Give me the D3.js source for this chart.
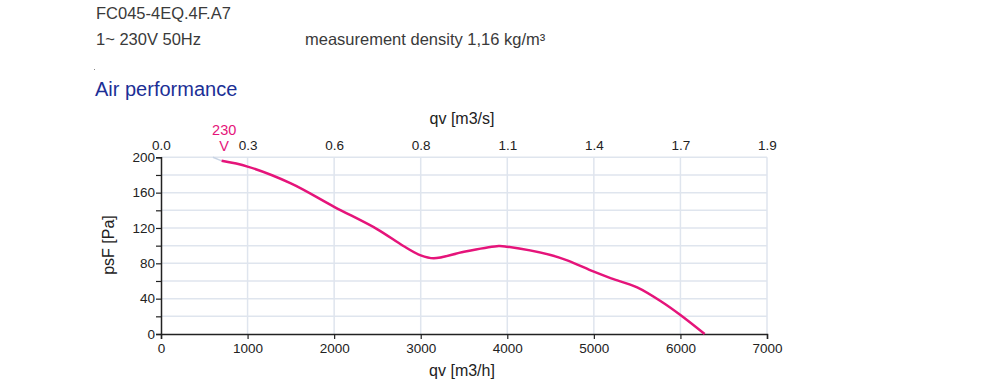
<!DOCTYPE html>
<html lang="en">
<head>
<meta charset="utf-8">
<title>FC045-4EQ.4F.A7 Air performance</title>
<script src="https://cdn.jsdelivr.net/npm/d3@7"></script>
<style>
  body { margin: 0; background: #fff; }
  svg text { font-family: "Liberation Sans", Arial, sans-serif; }
</style>
</head>
<body>
<svg width="1000" height="389"></svg>
<script>
// curve: flow in m3/h, static pressure in Pa
var flow     = [700, 1000, 1500, 2000, 2500, 2800, 3000, 3150, 3500, 3900, 4000, 4500, 4700, 5000, 5200, 5500, 5800, 6000, 6280];
var pressure = [196, 189.5, 170.5, 144, 118.5, 99.6, 89, 85.7, 93, 99.6, 98.8, 89.4, 83, 70.5, 63, 52.8, 35.4, 21.5, 0];
var flowTicks = [0, 1000, 2000, 3000, 4000, 5000, 6000, 7000];
var m3sLabels = ["0.0", "0.3", "0.6", "0.8", "1.1", "1.4", "1.7", "1.9"];

var svg = d3.select("svg");
var x = d3.scaleLinear().domain([0, 7000]).range([161, 767]);
var y = d3.scaleLinear().domain([0, 200]).range([334, 157.3]);

// header
svg.append("text").attr("x", 96).attr("y", 19).attr("font-size", "16.5px").attr("fill", "#3a3a3a")
    .text("FC045-4EQ.4F.A7");
svg.append("text").attr("x", 96).attr("y", 45).attr("font-size", "16.5px").attr("fill", "#3a3a3a")
    .text("1~ 230V 50Hz");
svg.append("text").attr("x", 305).attr("y", 45).attr("font-size", "16.5px").attr("fill", "#3a3a3a")
    .text("measurement density 1,16 kg/m³");
svg.append("rect").attr("x", 94).attr("y", 69).attr("width", 1).attr("height", 1).attr("fill", "#888");
svg.append("text").attr("x", 95).attr("y", 96).attr("font-size", "20px").attr("fill", "#1c2f96")
    .text("Air performance");

// grid
var g = svg.append("g");
g.selectAll(".hg").data(d3.range(20, 201, 20)).enter().append("line")
    .attr("x1", x(0)).attr("x2", x(7000))
    .attr("y1", function(d) { return y(d); }).attr("y2", function(d) { return y(d); })
    .attr("stroke", "#dfe5ee").attr("stroke-width", 1.5);
g.selectAll(".vg").data(flowTicks.slice(1)).enter().append("line")
    .attr("x1", function(d) { return x(d); }).attr("x2", function(d) { return x(d); })
    .attr("y1", y(200)).attr("y2", y(0))
    .attr("stroke", "#dfe5ee").attr("stroke-width", 1.5);

// left axis
var yAxis = svg.append("g").attr("transform", "translate(" + x(0) + ",0)")
    .call(d3.axisLeft(y).tickValues(d3.range(0, 201, 20)).tickSize(5)
        .tickFormat(function(d) { return d % 40 == 0 ? d : ""; }));
yAxis.select(".domain").attr("stroke", "#222").attr("stroke-width", 1.5);
yAxis.selectAll(".tick line").attr("stroke", "#222").attr("stroke-width", 1.2);
yAxis.selectAll(".tick text").attr("font-size", "13.5px").attr("fill", "#222").attr("x", -6)
    .attr("font-family", "'Liberation Sans', Arial, sans-serif");

// bottom axis
var xAxis = svg.append("g").attr("transform", "translate(0," + y(0) + ")")
    .call(d3.axisBottom(x).tickValues(flowTicks).tickSize(5).tickFormat(d3.format("d")));
xAxis.select(".domain").attr("stroke", "#222").attr("stroke-width", 1.5);
xAxis.selectAll(".tick line").attr("stroke", "#222").attr("stroke-width", 1.2);
xAxis.selectAll(".tick text").attr("font-size", "13.5px").attr("fill", "#222").attr("y", 9)
    .attr("font-family", "'Liberation Sans', Arial, sans-serif");

// top axis (m3/s), labels only
var topAxis = svg.append("g").attr("transform", "translate(0," + y(200) + ")")
    .call(d3.axisTop(x).tickValues(flowTicks).tickSize(0)
        .tickFormat(function(d, i) { return m3sLabels[i]; }));
topAxis.select(".domain").remove();
topAxis.selectAll(".tick text").attr("font-size", "13.5px").attr("fill", "#222").attr("y", -7)
    .attr("font-family", "'Liberation Sans', Arial, sans-serif");

// axis titles
svg.append("text").attr("x", 462).attr("y", 124).attr("text-anchor", "middle")
    .attr("font-size", "16px").attr("fill", "#222").text("qv [m3/s]");
svg.append("text").attr("x", 462).attr("y", 376).attr("text-anchor", "middle")
    .attr("font-size", "16px").attr("fill", "#222").text("qv [m3/h]");
svg.append("text").attr("transform", "translate(114,245) rotate(-90)").attr("text-anchor", "middle")
    .attr("font-size", "16px").attr("fill", "#222").text("psF [Pa]");

// curve
var pts = flow.map(function(d, i) { return [d, pressure[i]]; });
var line = d3.line()
    .x(function(d) { return x(d[0]); })
    .y(function(d) { return y(d[1]); })
    .curve(d3.curveCatmullRom.alpha(0.5));

svg.append("line")
    .attr("x1", x(600)).attr("y1", y(200)).attr("x2", x(flow[0])).attr("y2", y(pressure[0]))
    .attr("stroke", "#c8d4e4").attr("stroke-width", 1.5);
svg.append("path").datum(pts).attr("d", line)
    .attr("fill", "none").attr("stroke", "#e5147a").attr("stroke-width", 2.5);

// speed label
svg.append("text").attr("x", x(730)).attr("y", 135).attr("text-anchor", "middle")
    .attr("font-size", "14.5px").attr("fill", "#e5147a").text("230");
svg.append("text").attr("x", x(730)).attr("y", 151).attr("text-anchor", "middle")
    .attr("font-size", "14.5px").attr("fill", "#e5147a").text("V");
</script>
</body>
</html>
